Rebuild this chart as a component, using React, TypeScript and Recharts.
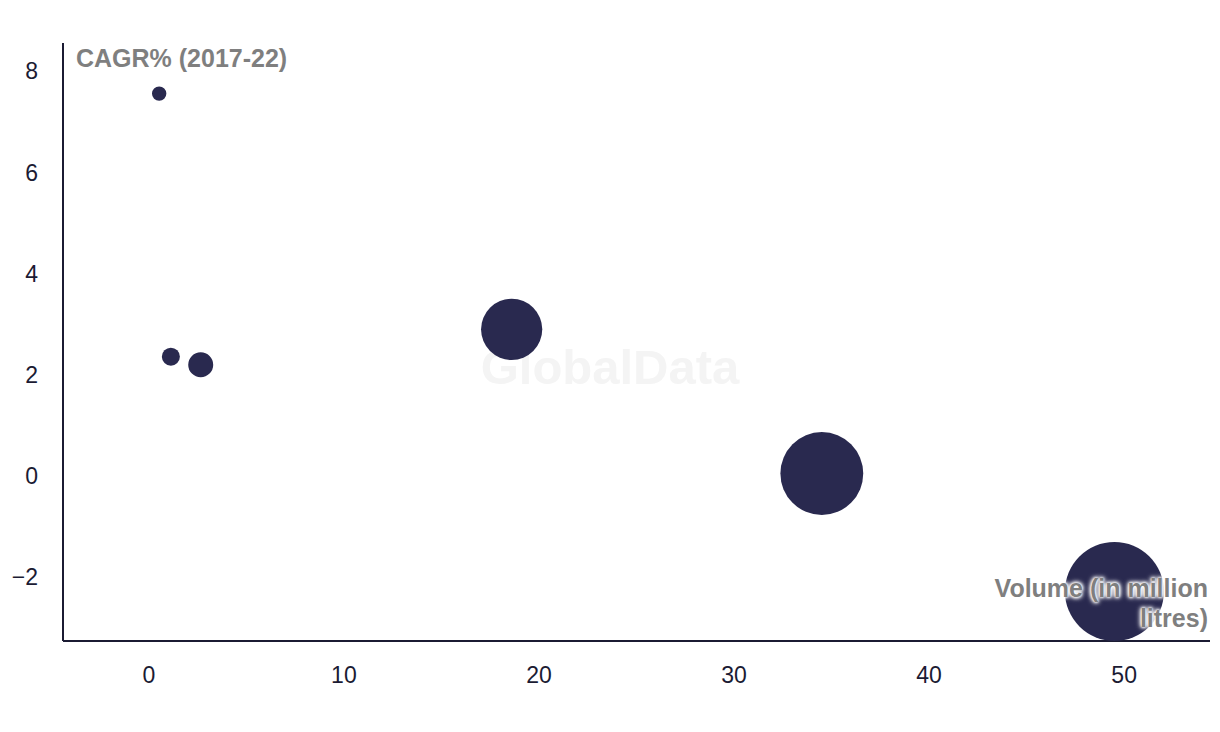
import React from "react";
import { ScatterChart, Scatter, XAxis, YAxis, ZAxis } from "recharts";

const volume = [0.53, 1.13, 2.66, 18.6, 34.5, 49.5];
const cagr = [7.56, 2.36, 2.2, 2.9, 0.05, -2.28];
const xTicks = [0, 10, 20, 30, 40, 50];
const yTicks = [-2, 0, 2, 4, 6, 8];

const data = volume.map((v, i) => ({ x: v, y: cagr[i], z: v }));

const FONT = "'Liberation Sans', Arial, sans-serif";
const BUBBLE = "#29294f";
const INK = "#1b1b33";
const GREY = "#7f7f7f";

const halo =
  "0 0 2px #fff, 0 0 3px #fff, 0 0 4px #fff, 0 0 5px #fff, 0 0 6px #fff";

export default function App() {
  return (
    <div
      style={{
        position: "absolute",
        left: 0,
        top: 0,
        width: 1220,
        height: 732,
        background: "#fff",
        fontFamily: FONT,
      }}
    >
      <div
        style={{
          position: "absolute",
          left: 0,
          width: 1220,
          top: 339,
          textAlign: "center",
          fontSize: 49,
          lineHeight: "56px",
          fontWeight: 700,
          color: "#f4f4f4",
        }}
      >
        GlobalData
      </div>
      <ScatterChart
        width={1220}
        height={732}
        margin={{ top: 43, right: 10, bottom: 31, left: 0 }}
        style={{ position: "absolute", left: 0, top: 0 }}
      >
        <XAxis
          type="number"
          dataKey="x"
          domain={[-4.4, 54.4]}
          ticks={xTicks}
          allowDataOverflow
          height={60}
          tickLine={false}
          tickSize={0}
          tickMargin={26}
          axisLine={{ stroke: INK, strokeWidth: 2 }}
          tick={{ fill: INK, fontSize: 23, fontFamily: FONT }}
        />
        <YAxis
          type="number"
          dataKey="y"
          domain={[-3.26, 8.56]}
          ticks={yTicks}
          allowDataOverflow
          width={63}
          tickLine={false}
          tickSize={0}
          tickMargin={25}
          axisLine={{ stroke: INK, strokeWidth: 2 }}
          tick={{ fill: INK, fontSize: 23, fontFamily: FONT }}
          tickFormatter={(v: number) => (v < 0 ? "\u2212" + Math.abs(v) : String(v))}
        />
        <ZAxis
          type="number"
          dataKey="z"
          domain={[Math.min(...volume), Math.max(...volume)]}
          range={[163, 7697]}
        />
        <Scatter data={data} fill={BUBBLE} isAnimationActive={false} />
      </ScatterChart>
      <div
        style={{
          position: "absolute",
          left: 76,
          top: 43,
          fontSize: 25,
          lineHeight: "30px",
          fontWeight: 700,
          color: GREY,
          whiteSpace: "nowrap",
        }}
      >
        CAGR% (2017-22)
      </div>
      <div
        style={{
          position: "absolute",
          right: 12,
          top: 573,
          fontSize: 25,
          lineHeight: "30px",
          fontWeight: 700,
          color: GREY,
          textAlign: "right",
          textShadow: halo,
          whiteSpace: "nowrap",
        }}
      >
        Volume (in million
        <br />
        litres)
      </div>
    </div>
  );
}
